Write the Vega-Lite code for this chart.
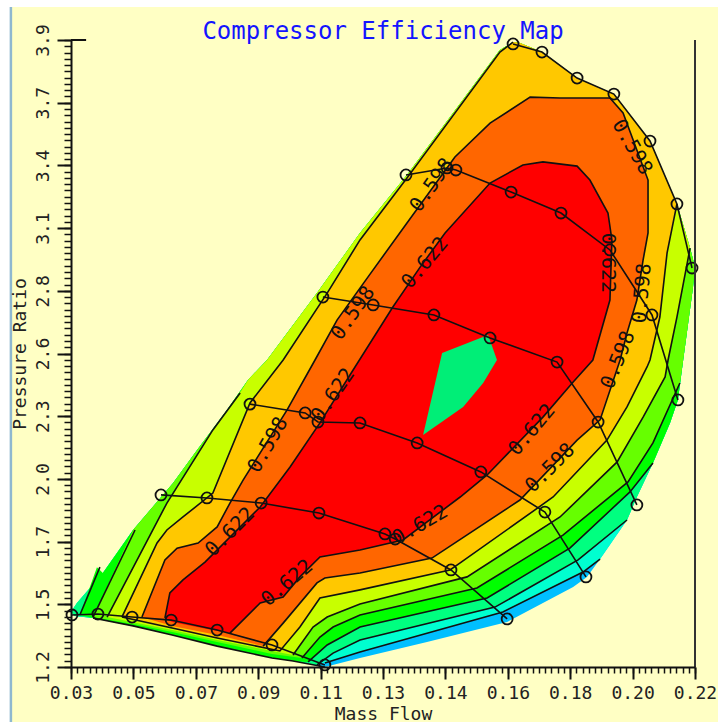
{"$schema":"https://vega.github.io/schema/vega-lite/v6.json","width":624,"height":627,"autosize":{"type":"none"},"padding":{"left":71,"top":40,"right":23,"bottom":55},"background":"#ffffff","title":{"text":"Compressor Efficiency Map","font":"DejaVu Sans Mono","fontSize":24,"fontWeight":"normal","color":"#1414ff","anchor":"middle","offset":-38},"config":{"view":{"stroke":null}},
"datasets":{
"frame":[{"flow":0.0117,"flow2":0.227,"ratio":0.963,"ratio2":4.042}],
"regions":[
{"band":"B","flow":0.03,"ratio":1.437},{"band":"B","flow":0.0318,"ratio":1.476},{"band":"B","flow":0.0397,"ratio":1.605},{"band":"B","flow":0.0489,"ratio":1.79},{"band":"B","flow":0.0611,"ratio":1.992},{"band":"B","flow":0.0684,"ratio":2.134},{"band":"B","flow":0.0775,"ratio":2.307},{"band":"B","flow":0.0839,"ratio":2.436},{"band":"B","flow":0.0897,"ratio":2.522},{"band":"B","flow":0.1049,"ratio":2.81},{"band":"B","flow":0.118,"ratio":3.069},{"band":"B","flow":0.1323,"ratio":3.319},{"band":"B","flow":0.1606,"ratio":3.857},{"band":"B","flow":0.1646,"ratio":3.891},{"band":"B","flow":0.1667,"ratio":3.887},{"band":"B","flow":0.1734,"ratio":3.848},{"band":"B","flow":0.1841,"ratio":3.736},{"band":"B","flow":0.1953,"ratio":3.667},{"band":"B","flow":0.2063,"ratio":3.465},{"band":"B","flow":0.2145,"ratio":3.194},{"band":"B","flow":0.2185,"ratio":3.004},{"band":"B","flow":0.22,"ratio":2.922},{"band":"B","flow":0.2194,"ratio":2.836},{"band":"B","flow":0.2164,"ratio":2.522},{"band":"B","flow":0.2148,"ratio":2.35},{"band":"B","flow":0.2124,"ratio":2.251},{"band":"B","flow":0.2072,"ratio":2.078},{"band":"B","flow":0.2023,"ratio":1.932},{"band":"B","flow":0.1993,"ratio":1.833},{"band":"B","flow":0.1911,"ratio":1.665},{"band":"B","flow":0.1871,"ratio":1.588},{"band":"B","flow":0.1829,"ratio":1.544},{"band":"B","flow":0.1628,"ratio":1.394},{"band":"B","flow":0.1384,"ratio":1.308},{"band":"B","flow":0.118,"ratio":1.239},{"band":"B","flow":0.1073,"ratio":1.2},{"band":"B","flow":0.0976,"ratio":1.226},{"band":"B","flow":0.0912,"ratio":1.239},{"band":"B","flow":0.0745,"ratio":1.29},{"band":"B","flow":0.0608,"ratio":1.338},{"band":"B","flow":0.0489,"ratio":1.377},{"band":"B","flow":0.0367,"ratio":1.411},{"band":"B","flow":0.0312,"ratio":1.42},
{"band":"Q","flow":0.03,"ratio":1.437},{"band":"Q","flow":0.0318,"ratio":1.476},{"band":"Q","flow":0.0397,"ratio":1.605},{"band":"Q","flow":0.0489,"ratio":1.79},{"band":"Q","flow":0.0611,"ratio":1.992},{"band":"Q","flow":0.0684,"ratio":2.134},{"band":"Q","flow":0.0775,"ratio":2.307},{"band":"Q","flow":0.0839,"ratio":2.436},{"band":"Q","flow":0.0897,"ratio":2.522},{"band":"Q","flow":0.1049,"ratio":2.81},{"band":"Q","flow":0.118,"ratio":3.069},{"band":"Q","flow":0.1323,"ratio":3.319},{"band":"Q","flow":0.1606,"ratio":3.857},{"band":"Q","flow":0.1646,"ratio":3.891},{"band":"Q","flow":0.1667,"ratio":3.887},{"band":"Q","flow":0.1734,"ratio":3.848},{"band":"Q","flow":0.1841,"ratio":3.736},{"band":"Q","flow":0.1953,"ratio":3.667},{"band":"Q","flow":0.2063,"ratio":3.465},{"band":"Q","flow":0.2145,"ratio":3.194},{"band":"Q","flow":0.2185,"ratio":3.004},{"band":"Q","flow":0.22,"ratio":2.922},{"band":"Q","flow":0.2194,"ratio":2.836},{"band":"Q","flow":0.2164,"ratio":2.522},{"band":"Q","flow":0.2148,"ratio":2.35},{"band":"Q","flow":0.2124,"ratio":2.251},{"band":"Q","flow":0.2072,"ratio":2.078},{"band":"Q","flow":0.2023,"ratio":1.932},{"band":"Q","flow":0.1993,"ratio":1.833},{"band":"Q","flow":0.1911,"ratio":1.665},{"band":"Q","flow":0.1859,"ratio":1.609},{"band":"Q","flow":0.1615,"ratio":1.437},{"band":"Q","flow":0.118,"ratio":1.265},{"band":"Q","flow":0.1073,"ratio":1.217},{"band":"Q","flow":0.0976,"ratio":1.226},{"band":"Q","flow":0.0912,"ratio":1.239},{"band":"Q","flow":0.0745,"ratio":1.29},{"band":"Q","flow":0.0608,"ratio":1.338},{"band":"Q","flow":0.0489,"ratio":1.377},{"band":"Q","flow":0.0367,"ratio":1.411},{"band":"Q","flow":0.0312,"ratio":1.42},
{"band":"S","flow":0.03,"ratio":1.437},{"band":"S","flow":0.0318,"ratio":1.476},{"band":"S","flow":0.0397,"ratio":1.605},{"band":"S","flow":0.0489,"ratio":1.79},{"band":"S","flow":0.0611,"ratio":1.992},{"band":"S","flow":0.0684,"ratio":2.134},{"band":"S","flow":0.0775,"ratio":2.307},{"band":"S","flow":0.0839,"ratio":2.436},{"band":"S","flow":0.0897,"ratio":2.522},{"band":"S","flow":0.1049,"ratio":2.81},{"band":"S","flow":0.118,"ratio":3.069},{"band":"S","flow":0.1323,"ratio":3.319},{"band":"S","flow":0.1606,"ratio":3.857},{"band":"S","flow":0.1646,"ratio":3.891},{"band":"S","flow":0.1667,"ratio":3.887},{"band":"S","flow":0.1734,"ratio":3.848},{"band":"S","flow":0.1841,"ratio":3.736},{"band":"S","flow":0.1953,"ratio":3.667},{"band":"S","flow":0.2063,"ratio":3.465},{"band":"S","flow":0.2145,"ratio":3.194},{"band":"S","flow":0.2185,"ratio":3.004},{"band":"S","flow":0.22,"ratio":2.922},{"band":"S","flow":0.2194,"ratio":2.836},{"band":"S","flow":0.2164,"ratio":2.522},{"band":"S","flow":0.2148,"ratio":2.35},{"band":"S","flow":0.2124,"ratio":2.251},{"band":"S","flow":0.2072,"ratio":2.078},{"band":"S","flow":0.2023,"ratio":1.932},{"band":"S","flow":0.1993,"ratio":1.833},{"band":"S","flow":0.1844,"ratio":1.661},{"band":"S","flow":0.1591,"ratio":1.458},{"band":"S","flow":0.118,"ratio":1.316},{"band":"S","flow":0.1098,"ratio":1.26},{"band":"S","flow":0.1049,"ratio":1.209},{"band":"S","flow":0.0976,"ratio":1.226},{"band":"S","flow":0.0912,"ratio":1.239},{"band":"S","flow":0.0745,"ratio":1.29},{"band":"S","flow":0.0608,"ratio":1.338},{"band":"S","flow":0.0489,"ratio":1.377},{"band":"S","flow":0.0367,"ratio":1.411},{"band":"S","flow":0.0312,"ratio":1.42},
{"band":"G","flow":0.0327,"ratio":1.424},{"band":"G","flow":0.0379,"ratio":1.63},{"band":"G","flow":0.0397,"ratio":1.605},{"band":"G","flow":0.0489,"ratio":1.79},{"band":"G","flow":0.0611,"ratio":1.992},{"band":"G","flow":0.0684,"ratio":2.134},{"band":"G","flow":0.0775,"ratio":2.307},{"band":"G","flow":0.0839,"ratio":2.436},{"band":"G","flow":0.0897,"ratio":2.522},{"band":"G","flow":0.1049,"ratio":2.81},{"band":"G","flow":0.118,"ratio":3.069},{"band":"G","flow":0.1323,"ratio":3.319},{"band":"G","flow":0.1606,"ratio":3.857},{"band":"G","flow":0.1646,"ratio":3.891},{"band":"G","flow":0.1667,"ratio":3.887},{"band":"G","flow":0.1734,"ratio":3.848},{"band":"G","flow":0.1841,"ratio":3.736},{"band":"G","flow":0.1953,"ratio":3.667},{"band":"G","flow":0.2063,"ratio":3.465},{"band":"G","flow":0.2145,"ratio":3.194},{"band":"G","flow":0.2185,"ratio":3.004},{"band":"G","flow":0.22,"ratio":2.922},{"band":"G","flow":0.2194,"ratio":2.836},{"band":"G","flow":0.2164,"ratio":2.522},{"band":"G","flow":0.2148,"ratio":2.35},{"band":"G","flow":0.2124,"ratio":2.251},{"band":"G","flow":0.2072,"ratio":2.078},{"band":"G","flow":0.2002,"ratio":1.954},{"band":"G","flow":0.1819,"ratio":1.712},{"band":"G","flow":0.1567,"ratio":1.497},{"band":"G","flow":0.118,"ratio":1.372},{"band":"G","flow":0.108,"ratio":1.295},{"band":"G","flow":0.1022,"ratio":1.222},{"band":"G","flow":0.0976,"ratio":1.226},{"band":"G","flow":0.0912,"ratio":1.239},{"band":"G","flow":0.0745,"ratio":1.29},{"band":"G","flow":0.0608,"ratio":1.338},{"band":"G","flow":0.0489,"ratio":1.377},{"band":"G","flow":0.0367,"ratio":1.411},
{"band":"L","flow":0.0367,"ratio":1.415},{"band":"L","flow":0.0489,"ratio":1.79},{"band":"L","flow":0.0611,"ratio":1.992},{"band":"L","flow":0.0684,"ratio":2.134},{"band":"L","flow":0.0775,"ratio":2.307},{"band":"L","flow":0.0839,"ratio":2.436},{"band":"L","flow":0.0897,"ratio":2.522},{"band":"L","flow":0.1049,"ratio":2.81},{"band":"L","flow":0.118,"ratio":3.069},{"band":"L","flow":0.1323,"ratio":3.319},{"band":"L","flow":0.1606,"ratio":3.857},{"band":"L","flow":0.1646,"ratio":3.891},{"band":"L","flow":0.1667,"ratio":3.887},{"band":"L","flow":0.1734,"ratio":3.848},{"band":"L","flow":0.1841,"ratio":3.736},{"band":"L","flow":0.1953,"ratio":3.667},{"band":"L","flow":0.2063,"ratio":3.465},{"band":"L","flow":0.2145,"ratio":3.194},{"band":"L","flow":0.2185,"ratio":3.004},{"band":"L","flow":0.22,"ratio":2.922},{"band":"L","flow":0.2194,"ratio":2.836},{"band":"L","flow":0.2164,"ratio":2.522},{"band":"L","flow":0.2154,"ratio":2.423},{"band":"L","flow":0.2072,"ratio":2.165},{"band":"L","flow":0.1996,"ratio":1.997},{"band":"L","flow":0.1798,"ratio":1.768},{"band":"L","flow":0.1536,"ratio":1.54},{"band":"L","flow":0.118,"ratio":1.424},{"band":"L","flow":0.1098,"ratio":1.372},{"band":"L","flow":0.1058,"ratio":1.329},{"band":"L","flow":0.1003,"ratio":1.239},{"band":"L","flow":0.0912,"ratio":1.256},{"band":"L","flow":0.0745,"ratio":1.308},{"band":"L","flow":0.0608,"ratio":1.351},{"band":"L","flow":0.0489,"ratio":1.385},
{"band":"Y","flow":0.041,"ratio":1.415},{"band":"Y","flow":0.0592,"ratio":1.906},{"band":"Y","flow":0.0732,"ratio":2.221},{"band":"Y","flow":0.0815,"ratio":2.38},{"band":"Y","flow":0.0839,"ratio":2.436},{"band":"Y","flow":0.0897,"ratio":2.522},{"band":"Y","flow":0.1049,"ratio":2.81},{"band":"Y","flow":0.118,"ratio":3.069},{"band":"Y","flow":0.1323,"ratio":3.319},{"band":"Y","flow":0.1606,"ratio":3.857},{"band":"Y","flow":0.1646,"ratio":3.891},{"band":"Y","flow":0.1667,"ratio":3.887},{"band":"Y","flow":0.1734,"ratio":3.848},{"band":"Y","flow":0.1841,"ratio":3.736},{"band":"Y","flow":0.1953,"ratio":3.667},{"band":"Y","flow":0.2063,"ratio":3.465},{"band":"Y","flow":0.2145,"ratio":3.194},{"band":"Y","flow":0.2185,"ratio":3.004},{"band":"Y","flow":0.2145,"ratio":2.707},{"band":"Y","flow":0.2118,"ratio":2.522},{"band":"Y","flow":0.2109,"ratio":2.449},{"band":"Y","flow":0.2042,"ratio":2.276},{"band":"Y","flow":0.1963,"ratio":2.083},{"band":"Y","flow":0.1789,"ratio":1.846},{"band":"Y","flow":0.1506,"ratio":1.588},{"band":"Y","flow":0.118,"ratio":1.471},{"band":"Y","flow":0.108,"ratio":1.415},{"band":"Y","flow":0.1037,"ratio":1.372},{"band":"Y","flow":0.0976,"ratio":1.252},{"band":"Y","flow":0.0912,"ratio":1.269},{"band":"Y","flow":0.0745,"ratio":1.316},{"band":"Y","flow":0.0608,"ratio":1.359},
{"band":"A","flow":0.0455,"ratio":1.415},{"band":"A","flow":0.0562,"ratio":1.734},{"band":"A","flow":0.0592,"ratio":1.79},{"band":"A","flow":0.0641,"ratio":1.846},{"band":"A","flow":0.0732,"ratio":1.949},{"band":"A","flow":0.0845,"ratio":2.337},{"band":"A","flow":0.0946,"ratio":2.522},{"band":"A","flow":0.108,"ratio":2.81},{"band":"A","flow":0.118,"ratio":3.039},{"band":"A","flow":0.1323,"ratio":3.306},{"band":"A","flow":0.1606,"ratio":3.848},{"band":"A","flow":0.1646,"ratio":3.891},{"band":"A","flow":0.1667,"ratio":3.887},{"band":"A","flow":0.1734,"ratio":3.848},{"band":"A","flow":0.1841,"ratio":3.736},{"band":"A","flow":0.1953,"ratio":3.667},{"band":"A","flow":0.2063,"ratio":3.465},{"band":"A","flow":0.2145,"ratio":3.194},{"band":"A","flow":0.2115,"ratio":2.983},{"band":"A","flow":0.2093,"ratio":2.707},{"band":"A","flow":0.2063,"ratio":2.522},{"band":"A","flow":0.2054,"ratio":2.492},{"band":"A","flow":0.1993,"ratio":2.32},{"band":"A","flow":0.1932,"ratio":2.177},{"band":"A","flow":0.1768,"ratio":1.932},{"band":"A","flow":0.1485,"ratio":1.648},{"band":"A","flow":0.1454,"ratio":1.618},{"band":"A","flow":0.118,"ratio":1.532},{"band":"A","flow":0.1058,"ratio":1.497},{"band":"A","flow":0.0997,"ratio":1.372},{"band":"A","flow":0.0936,"ratio":1.269},{"band":"A","flow":0.0745,"ratio":1.325},{"band":"A","flow":0.0608,"ratio":1.368},
{"band":"O","flow":0.0516,"ratio":1.415},{"band":"O","flow":0.0586,"ratio":1.661},{"band":"O","flow":0.0623,"ratio":1.712},{"band":"O","flow":0.0687,"ratio":1.734},{"band":"O","flow":0.0745,"ratio":1.803},{"band":"O","flow":0.0784,"ratio":1.906},{"band":"O","flow":0.0824,"ratio":2.005},{"band":"O","flow":0.0958,"ratio":2.307},{"band":"O","flow":0.1043,"ratio":2.522},{"band":"O","flow":0.111,"ratio":2.694},{"band":"O","flow":0.1204,"ratio":2.879},{"band":"O","flow":0.1323,"ratio":3.112},{"band":"O","flow":0.1469,"ratio":3.396},{"band":"O","flow":0.1576,"ratio":3.542},{"band":"O","flow":0.1698,"ratio":3.654},{"band":"O","flow":0.1789,"ratio":3.65},{"band":"O","flow":0.1941,"ratio":3.65},{"band":"O","flow":0.1981,"ratio":3.586},{"band":"O","flow":0.2057,"ratio":3.297},{"band":"O","flow":0.2057,"ratio":3.069},{"band":"O","flow":0.2042,"ratio":2.953},{"band":"O","flow":0.2023,"ratio":2.78},{"band":"O","flow":0.1993,"ratio":2.638},{"band":"O","flow":0.1972,"ratio":2.522},{"band":"O","flow":0.1911,"ratio":2.264},{"band":"O","flow":0.1841,"ratio":2.177},{"band":"O","flow":0.1667,"ratio":1.919},{"band":"O","flow":0.1399,"ratio":1.669},{"band":"O","flow":0.118,"ratio":1.605},{"band":"O","flow":0.1073,"ratio":1.583},{"band":"O","flow":0.1049,"ratio":1.562},{"band":"O","flow":0.0946,"ratio":1.389},{"band":"O","flow":0.0885,"ratio":1.29},{"band":"O","flow":0.0745,"ratio":1.338},{"band":"O","flow":0.0608,"ratio":1.377},
{"band":"R","flow":0.0586,"ratio":1.411},{"band":"R","flow":0.0601,"ratio":1.519},{"band":"R","flow":0.0641,"ratio":1.575},{"band":"R","flow":0.0708,"ratio":1.652},{"band":"R","flow":0.0876,"ratio":1.889},{"band":"R","flow":0.0967,"ratio":2.061},{"band":"R","flow":0.1058,"ratio":2.251},{"band":"R","flow":0.1159,"ratio":2.479},{"band":"R","flow":0.128,"ratio":2.75},{"band":"R","flow":0.1363,"ratio":2.922},{"band":"R","flow":0.1439,"ratio":3.069},{"band":"R","flow":0.1576,"ratio":3.284},{"band":"R","flow":0.1676,"ratio":3.362},{"band":"R","flow":0.1737,"ratio":3.375},{"band":"R","flow":0.1841,"ratio":3.357},{"band":"R","flow":0.188,"ratio":3.297},{"band":"R","flow":0.1935,"ratio":3.155},{"band":"R","flow":0.1947,"ratio":3.039},{"band":"R","flow":0.1941,"ratio":2.78},{"band":"R","flow":0.1889,"ratio":2.522},{"band":"R","flow":0.1829,"ratio":2.427},{"band":"R","flow":0.1737,"ratio":2.276},{"band":"R","flow":0.1567,"ratio":2.027},{"band":"R","flow":0.1485,"ratio":1.932},{"band":"R","flow":0.1311,"ratio":1.747},{"band":"R","flow":0.118,"ratio":1.704},{"band":"R","flow":0.1058,"ratio":1.674},{"band":"R","flow":0.0997,"ratio":1.588},{"band":"R","flow":0.0946,"ratio":1.501},{"band":"R","flow":0.0876,"ratio":1.476},{"band":"R","flow":0.0784,"ratio":1.346},{"band":"R","flow":0.0745,"ratio":1.355},{"band":"R","flow":0.0608,"ratio":1.394},
{"band":"C","flow":0.143,"ratio":2.552},{"band":"C","flow":0.157,"ratio":2.63},{"band":"C","flow":0.1597,"ratio":2.522},{"band":"C","flow":0.1555,"ratio":2.423},{"band":"C","flow":0.1494,"ratio":2.32},{"band":"C","flow":0.1372,"ratio":2.199}
],
"contours":[
{"c":"c1","flow":0.1911,"ratio":1.665},{"c":"c1","flow":0.1859,"ratio":1.609},{"c":"c1","flow":0.1615,"ratio":1.437},{"c":"c1","flow":0.118,"ratio":1.265},{"c":"c1","flow":0.1073,"ratio":1.217},
{"c":"c2","flow":0.1993,"ratio":1.833},{"c":"c2","flow":0.1844,"ratio":1.661},{"c":"c2","flow":0.1591,"ratio":1.458},{"c":"c2","flow":0.118,"ratio":1.316},{"c":"c2","flow":0.1098,"ratio":1.26},{"c":"c2","flow":0.1049,"ratio":1.209},
{"c":"c3","flow":0.2072,"ratio":2.078},{"c":"c3","flow":0.2002,"ratio":1.954},{"c":"c3","flow":0.1819,"ratio":1.712},{"c":"c3","flow":0.1567,"ratio":1.497},{"c":"c3","flow":0.118,"ratio":1.372},{"c":"c3","flow":0.108,"ratio":1.295},{"c":"c3","flow":0.1022,"ratio":1.222},
{"c":"c3b","flow":0.0327,"ratio":1.424},{"c":"c3b","flow":0.0388,"ratio":1.63},
{"c":"c4","flow":0.2154,"ratio":2.423},{"c":"c4","flow":0.2072,"ratio":2.165},{"c":"c4","flow":0.1996,"ratio":1.997},{"c":"c4","flow":0.1798,"ratio":1.768},{"c":"c4","flow":0.1536,"ratio":1.54},{"c":"c4","flow":0.118,"ratio":1.424},{"c":"c4","flow":0.1098,"ratio":1.372},{"c":"c4","flow":0.1058,"ratio":1.329},{"c":"c4","flow":0.1003,"ratio":1.239},
{"c":"c4b","flow":0.0367,"ratio":1.415},{"c":"c4b","flow":0.0495,"ratio":1.79},
{"c":"c5","flow":0.2185,"ratio":3.004},{"c":"c5","flow":0.2145,"ratio":2.707},{"c":"c5","flow":0.2118,"ratio":2.522},{"c":"c5","flow":0.2109,"ratio":2.449},{"c":"c5","flow":0.2042,"ratio":2.276},{"c":"c5","flow":0.1963,"ratio":2.083},{"c":"c5","flow":0.1789,"ratio":1.846},{"c":"c5","flow":0.1506,"ratio":1.588},{"c":"c5","flow":0.118,"ratio":1.471},{"c":"c5","flow":0.108,"ratio":1.415},{"c":"c5","flow":0.1037,"ratio":1.372},{"c":"c5","flow":0.0976,"ratio":1.252},
{"c":"c5b","flow":0.041,"ratio":1.415},{"c":"c5b","flow":0.0592,"ratio":1.906},{"c":"c5b","flow":0.0732,"ratio":2.221},{"c":"c5b","flow":0.0815,"ratio":2.38},
{"c":"c6","flow":0.0455,"ratio":1.415},{"c":"c6","flow":0.0562,"ratio":1.734},{"c":"c6","flow":0.0592,"ratio":1.79},{"c":"c6","flow":0.0641,"ratio":1.846},{"c":"c6","flow":0.0732,"ratio":1.949},{"c":"c6","flow":0.0845,"ratio":2.337},{"c":"c6","flow":0.0946,"ratio":2.522},{"c":"c6","flow":0.108,"ratio":2.81},{"c":"c6","flow":0.118,"ratio":3.039},{"c":"c6","flow":0.1323,"ratio":3.306},{"c":"c6","flow":0.1606,"ratio":3.848},{"c":"c6","flow":0.1646,"ratio":3.891},
{"c":"c6b","flow":0.2145,"ratio":3.194},{"c":"c6b","flow":0.2115,"ratio":2.983},{"c":"c6b","flow":0.2093,"ratio":2.707},{"c":"c6b","flow":0.2063,"ratio":2.522},{"c":"c6b","flow":0.2054,"ratio":2.492},{"c":"c6b","flow":0.1993,"ratio":2.32},{"c":"c6b","flow":0.1932,"ratio":2.177},{"c":"c6b","flow":0.1768,"ratio":1.932},{"c":"c6b","flow":0.1485,"ratio":1.648},{"c":"c6b","flow":0.1454,"ratio":1.618},{"c":"c6b","flow":0.118,"ratio":1.532},{"c":"c6b","flow":0.1058,"ratio":1.497},{"c":"c6b","flow":0.0997,"ratio":1.372},{"c":"c6b","flow":0.0936,"ratio":1.269},{"c":"c6b","flow":0.0745,"ratio":1.325},{"c":"c6b","flow":0.0608,"ratio":1.368},{"c":"c6b","flow":0.0455,"ratio":1.415},
{"c":"c7","flow":0.0516,"ratio":1.415},{"c":"c7","flow":0.0586,"ratio":1.661},{"c":"c7","flow":0.0623,"ratio":1.712},{"c":"c7","flow":0.0687,"ratio":1.734},{"c":"c7","flow":0.0745,"ratio":1.803},{"c":"c7","flow":0.0784,"ratio":1.906},{"c":"c7","flow":0.0824,"ratio":2.005},{"c":"c7","flow":0.0958,"ratio":2.307},{"c":"c7","flow":0.1043,"ratio":2.522},{"c":"c7","flow":0.111,"ratio":2.694},{"c":"c7","flow":0.1204,"ratio":2.879},{"c":"c7","flow":0.1323,"ratio":3.112},{"c":"c7","flow":0.1469,"ratio":3.396},{"c":"c7","flow":0.1576,"ratio":3.542},{"c":"c7","flow":0.1698,"ratio":3.654},{"c":"c7","flow":0.1789,"ratio":3.65},{"c":"c7","flow":0.1941,"ratio":3.65},{"c":"c7","flow":0.1981,"ratio":3.586},{"c":"c7","flow":0.2057,"ratio":3.297},{"c":"c7","flow":0.2057,"ratio":3.069},{"c":"c7","flow":0.2042,"ratio":2.953},{"c":"c7","flow":0.2023,"ratio":2.78},{"c":"c7","flow":0.1993,"ratio":2.638},{"c":"c7","flow":0.1972,"ratio":2.522},{"c":"c7","flow":0.1911,"ratio":2.264},{"c":"c7","flow":0.1841,"ratio":2.177},{"c":"c7","flow":0.1667,"ratio":1.919},{"c":"c7","flow":0.1399,"ratio":1.669},{"c":"c7","flow":0.118,"ratio":1.605},{"c":"c7","flow":0.1073,"ratio":1.583},{"c":"c7","flow":0.1049,"ratio":1.562},{"c":"c7","flow":0.0946,"ratio":1.389},{"c":"c7","flow":0.0885,"ratio":1.29},
{"c":"c8","flow":0.0586,"ratio":1.411},{"c":"c8","flow":0.0601,"ratio":1.519},{"c":"c8","flow":0.0641,"ratio":1.575},{"c":"c8","flow":0.0708,"ratio":1.652},{"c":"c8","flow":0.0876,"ratio":1.889},{"c":"c8","flow":0.0967,"ratio":2.061},{"c":"c8","flow":0.1058,"ratio":2.251},{"c":"c8","flow":0.1159,"ratio":2.479},{"c":"c8","flow":0.128,"ratio":2.75},{"c":"c8","flow":0.1363,"ratio":2.922},{"c":"c8","flow":0.1439,"ratio":3.069},{"c":"c8","flow":0.1576,"ratio":3.284},{"c":"c8","flow":0.1676,"ratio":3.362},{"c":"c8","flow":0.1737,"ratio":3.375},{"c":"c8","flow":0.1841,"ratio":3.357},{"c":"c8","flow":0.188,"ratio":3.297},{"c":"c8","flow":0.1935,"ratio":3.155},{"c":"c8","flow":0.1947,"ratio":3.039},{"c":"c8","flow":0.1941,"ratio":2.78},{"c":"c8","flow":0.1889,"ratio":2.522},{"c":"c8","flow":0.1829,"ratio":2.427},{"c":"c8","flow":0.1737,"ratio":2.276},{"c":"c8","flow":0.1567,"ratio":2.027},{"c":"c8","flow":0.1485,"ratio":1.932},{"c":"c8","flow":0.1311,"ratio":1.747},{"c":"c8","flow":0.118,"ratio":1.704},{"c":"c8","flow":0.1058,"ratio":1.674},{"c":"c8","flow":0.0997,"ratio":1.588},{"c":"c8","flow":0.0946,"ratio":1.501},{"c":"c8","flow":0.0876,"ratio":1.476},{"c":"c8","flow":0.0784,"ratio":1.346},
{"c":"c9","flow":0.1073,"ratio":1.2},{"c":"c9","flow":0.0976,"ratio":1.226},{"c":"c9","flow":0.0912,"ratio":1.239},{"c":"c9","flow":0.0745,"ratio":1.29},{"c":"c9","flow":0.0608,"ratio":1.338},{"c":"c9","flow":0.0489,"ratio":1.377},{"c":"c9","flow":0.0367,"ratio":1.411}
],
"speeds":[
{"s":"s1","flow":0.0303,"ratio":1.424},{"s":"s1","flow":0.0382,"ratio":1.428},{"s":"s1","flow":0.0486,"ratio":1.415},{"s":"s1","flow":0.0605,"ratio":1.402},{"s":"s1","flow":0.0745,"ratio":1.359},{"s":"s1","flow":0.0912,"ratio":1.295},{"s":"s1","flow":0.1073,"ratio":1.209},
{"s":"s2","flow":0.0574,"ratio":1.941},{"s":"s2","flow":0.0714,"ratio":1.928},{"s":"s2","flow":0.0879,"ratio":1.906},{"s":"s2","flow":0.1055,"ratio":1.863},{"s":"s2","flow":0.1256,"ratio":1.773},{"s":"s2","flow":0.1287,"ratio":1.751},{"s":"s2","flow":0.1457,"ratio":1.618},{"s":"s2","flow":0.1628,"ratio":1.407},
{"s":"s3","flow":0.0845,"ratio":2.332},{"s":"s3","flow":0.1013,"ratio":2.294},{"s":"s3","flow":0.1052,"ratio":2.255},{"s":"s3","flow":0.118,"ratio":2.251},{"s":"s3","flow":0.1354,"ratio":2.165},{"s":"s3","flow":0.1548,"ratio":2.04},{"s":"s3","flow":0.1743,"ratio":1.867},{"s":"s3","flow":0.1868,"ratio":1.588},
{"s":"s4","flow":0.1067,"ratio":2.793},{"s":"s4","flow":0.122,"ratio":2.759},{"s":"s4","flow":0.1405,"ratio":2.716},{"s":"s4","flow":0.1576,"ratio":2.617},{"s":"s4","flow":0.178,"ratio":2.513},{"s":"s4","flow":0.1905,"ratio":2.255},{"s":"s4","flow":0.2023,"ratio":1.898},
{"s":"s5","flow":0.132,"ratio":3.319},{"s":"s5","flow":0.1445,"ratio":3.349},{"s":"s5","flow":0.1472,"ratio":3.34},{"s":"s5","flow":0.164,"ratio":3.245},{"s":"s5","flow":0.1792,"ratio":3.155},{"s":"s5","flow":0.1941,"ratio":2.996},{"s":"s5","flow":0.2069,"ratio":2.716},{"s":"s5","flow":0.2148,"ratio":2.35},
{"s":"s6","flow":0.1646,"ratio":3.883},{"s":"s6","flow":0.1734,"ratio":3.848},{"s":"s6","flow":0.1841,"ratio":3.736},{"s":"s6","flow":0.1953,"ratio":3.667},{"s":"s6","flow":0.2063,"ratio":3.465},{"s":"s6","flow":0.2145,"ratio":3.194},{"s":"s6","flow":0.2191,"ratio":2.918}
]},
"layer":[
{"data":{"name":"frame"},"mark":{"type":"rect","fill":"#ffffc4"},"encoding":{"x":{"field":"flow","type":"quantitative","scale":{"domain":[0.03,0.22]},"axis":null},"x2":{"field":"flow2"},"y":{"field":"ratio","type":"quantitative","scale":{"domain":[1.2,3.9]},"axis":null},"y2":{"field":"ratio2"}}},
{"data":{"name":"frame"},"mark":{"type":"rule","stroke":"#8fb8cf","strokeWidth":2.5},"encoding":{"x":{"field":"flow","type":"quantitative","scale":{"domain":[0.03,0.22]},"axis":null},"y":{"field":"ratio","type":"quantitative","scale":{"domain":[1.2,3.9]},"axis":null},"y2":{"field":"ratio2"}}},
{"data":{"name":"regions"},"mark":{"type":"line","strokeWidth":0,"clip":false},"encoding":{"order":{"value":null},"detail":{"field":"band"},"fill":{"field":"band","type":"nominal","legend":null,"scale":{"domain":["B","Q","S","G","L","Y","A","O","R","C"],"range":["#00BFFF","#00FFD0","#00FF80","#00FF00","#66FF00","#C8FF00","#FFC800","#FF6600","#FF0000","#00EE77"]}},
"x":{"field":"flow","type":"quantitative","scale":{"domain":[0.03,0.22]},"axis":{"orient":"bottom","zindex":1,"title":"Mass Flow","values":[0.03,0.049,0.068,0.087,0.106,0.125,0.144,0.163,0.182,0.201,0.22],"format":".2f","grid":false,"domainColor":"#111111","domainWidth":2,"tickColor":"#111111","tickWidth":2,"tickSize":12,"labelFont":"DejaVu Sans Mono","labelFontSize":18,"labelColor":"#222222","labelPadding":5,"labelFlush":false,"labelOverlap":false,"titleFont":"DejaVu Sans Mono","titleFontSize":18,"titleFontWeight":"normal","titleColor":"#222222","titleY":47,"titleBaseline":"middle"}},
"y":{"field":"ratio","type":"quantitative","scale":{"domain":[1.2,3.9]},"axis":{"orient":"left","zindex":1,"title":"Pressure Ratio","values":[1.2,1.47,1.74,2.01,2.28,2.55,2.82,3.09,3.36,3.63,3.9],"labelExpr":"datum.value==3.63?'3.7':(datum.value==2.55?'2.6':format(datum.value,'.1f'))","grid":false,"domainColor":"#111111","domainWidth":2,"tickColor":"#111111","tickWidth":2,"tickSize":14,"labelAngle":270,"labelAlign":"center","labelBaseline":"middle","labelFont":"DejaVu Sans Mono","labelFontSize":18,"labelColor":"#222222","labelPadding":14,"labelFlush":false,"labelOverlap":false,"titleFont":"DejaVu Sans Mono","titleFontSize":18,"titleFontWeight":"normal","titleColor":"#222222","titleX":-51,"titleBaseline":"middle","titleAngle":270}}}},
{"data":{"name":"contours"},"mark":{"type":"line","stroke":"#111111","strokeWidth":1.6},"encoding":{"order":{"value":null},"detail":{"field":"c"},"x":{"field":"flow","type":"quantitative","scale":{"domain":[0.03,0.22]},"axis":null},"y":{"field":"ratio","type":"quantitative","scale":{"domain":[1.2,3.9]},"axis":null}}},
{"data":{"name":"speeds"},"mark":{"type":"line","stroke":"#111111","strokeWidth":1.6},"encoding":{"order":{"value":null},"detail":{"field":"s"},"x":{"field":"flow","type":"quantitative","scale":{"domain":[0.03,0.22]},"axis":null},"y":{"field":"ratio","type":"quantitative","scale":{"domain":[1.2,3.9]},"axis":null}}},
{"data":{"name":"speeds"},"mark":{"type":"point","shape":"circle","filled":false,"stroke":"#111111","strokeWidth":1.8,"size":120,"opacity":1},"encoding":{
"x":{"field":"flow","type":"quantitative","scale":{"domain":[0.03,0.22]},"axis":{"orient":"bottom","zindex":1,"title":null,"labels":false,"domain":false,"grid":false,"tickColor":"#111111","tickWidth":1.5,"tickSize":6,"values":[0.03,0.0319,0.0338,0.0357,0.0376,0.0395,0.0414,0.0433,0.0452,0.0471,0.049,0.0509,0.0528,0.0547,0.0566,0.0585,0.0604,0.0623,0.0642,0.0661,0.068,0.0699,0.0718,0.0737,0.0756,0.0775,0.0794,0.0813,0.0832,0.0851,0.087,0.0889,0.0908,0.0927,0.0946,0.0965,0.0984,0.1003,0.1022,0.1041,0.106,0.1079,0.1098,0.1117,0.1136,0.1155,0.1174,0.1193,0.1212,0.1231,0.125,0.1269,0.1288,0.1307,0.1326,0.1345,0.1364,0.1383,0.1402,0.1421,0.144,0.1459,0.1478,0.1497,0.1516,0.1535,0.1554,0.1573,0.1592,0.1611,0.163,0.1649,0.1668,0.1687,0.1706,0.1725,0.1744,0.1763,0.1782,0.1801,0.182,0.1839,0.1858,0.1877,0.1896,0.1915,0.1934,0.1953,0.1972,0.1991,0.201,0.2029,0.2048,0.2067,0.2086,0.2105,0.2124,0.2143,0.2162,0.2181,0.22]}},
"y":{"field":"ratio","type":"quantitative","scale":{"domain":[1.2,3.9]},"axis":{"orient":"left","zindex":1,"title":null,"labels":false,"domain":false,"grid":false,"tickColor":"#111111","tickWidth":1.5,"tickSize":7,"values":[1.2,1.227,1.254,1.281,1.308,1.335,1.362,1.389,1.416,1.443,1.47,1.497,1.524,1.551,1.578,1.605,1.632,1.659,1.686,1.713,1.74,1.767,1.794,1.821,1.848,1.875,1.902,1.929,1.956,1.983,2.01,2.037,2.064,2.091,2.118,2.145,2.172,2.199,2.226,2.253,2.28,2.307,2.334,2.361,2.388,2.415,2.442,2.469,2.496,2.523,2.55,2.577,2.604,2.631,2.658,2.685,2.712,2.739,2.766,2.793,2.82,2.847,2.874,2.901,2.928,2.955,2.982,3.009,3.036,3.063,3.09,3.117,3.144,3.171,3.198,3.225,3.252,3.279,3.306,3.333,3.36,3.387,3.414,3.441,3.468,3.495,3.522,3.549,3.576,3.603,3.63,3.657,3.684,3.711,3.738,3.765,3.792,3.819,3.846,3.873,3.9]}}}},
{"data":{"values":[{"flow":0.2008,"ratio":3.439,"label":"0.598"}]},"mark":{"type":"text","angle":60,"font":"DejaVu Sans Mono","fontSize":20,"color":"#111111"},"encoding":{"text":{"field":"label"},"x":{"field":"flow","type":"quantitative","scale":{"domain":[0.03,0.22]},"axis":null},"y":{"field":"ratio","type":"quantitative","scale":{"domain":[1.2,3.9]},"axis":null}}},
{"data":{"values":[{"flow":0.1399,"ratio":3.275,"label":"0.598"},{"flow":0.1098,"ratio":2.371,"label":"0.622"},{"flow":0.1159,"ratio":2.724,"label":"0.598"}]},"mark":{"type":"text","angle":305,"font":"DejaVu Sans Mono","fontSize":20,"color":"#111111"},"encoding":{"text":{"field":"label"},"x":{"field":"flow","type":"quantitative","scale":{"domain":[0.03,0.22]},"axis":null},"y":{"field":"ratio","type":"quantitative","scale":{"domain":[1.2,3.9]},"axis":null}}},
{"data":{"values":[{"flow":0.1378,"ratio":2.94,"label":"0.622"},{"flow":0.1704,"ratio":2.221,"label":"0.622"}]},"mark":{"type":"text","angle":310,"font":"DejaVu Sans Mono","fontSize":20,"color":"#111111"},"encoding":{"text":{"field":"label"},"x":{"field":"flow","type":"quantitative","scale":{"domain":[0.03,0.22]},"axis":null},"y":{"field":"ratio","type":"quantitative","scale":{"domain":[1.2,3.9]},"axis":null}}},
{"data":{"values":[{"flow":0.1759,"ratio":2.057,"label":"0.598"},{"flow":0.0784,"ratio":1.781,"label":"0.622"}]},"mark":{"type":"text","angle":315,"font":"DejaVu Sans Mono","fontSize":20,"color":"#111111"},"encoding":{"text":{"field":"label"},"x":{"field":"flow","type":"quantitative","scale":{"domain":[0.03,0.22]},"axis":null},"y":{"field":"ratio","type":"quantitative","scale":{"domain":[1.2,3.9]},"axis":null}}},
{"data":{"values":[{"flow":0.1935,"ratio":2.94,"label":"0.622"}]},"mark":{"type":"text","angle":90,"font":"DejaVu Sans Mono","fontSize":20,"color":"#111111"},"encoding":{"text":{"field":"label"},"x":{"field":"flow","type":"quantitative","scale":{"domain":[0.03,0.22]},"axis":null},"y":{"field":"ratio","type":"quantitative","scale":{"domain":[1.2,3.9]},"axis":null}}},
{"data":{"values":[{"flow":0.2039,"ratio":2.81,"label":"0.598"}]},"mark":{"type":"text","angle":275,"font":"DejaVu Sans Mono","fontSize":20,"color":"#111111"},"encoding":{"text":{"field":"label"},"x":{"field":"flow","type":"quantitative","scale":{"domain":[0.03,0.22]},"axis":null},"y":{"field":"ratio","type":"quantitative","scale":{"domain":[1.2,3.9]},"axis":null}}},
{"data":{"values":[{"flow":0.1966,"ratio":2.522,"label":"0.598"}]},"mark":{"type":"text","angle":292,"font":"DejaVu Sans Mono","fontSize":20,"color":"#111111"},"encoding":{"text":{"field":"label"},"x":{"field":"flow","type":"quantitative","scale":{"domain":[0.03,0.22]},"axis":null},"y":{"field":"ratio","type":"quantitative","scale":{"domain":[1.2,3.9]},"axis":null}}},
{"data":{"values":[{"flow":0.1363,"ratio":1.811,"label":"0.622"}]},"mark":{"type":"text","angle":330,"font":"DejaVu Sans Mono","fontSize":20,"color":"#111111"},"encoding":{"text":{"field":"label"},"x":{"field":"flow","type":"quantitative","scale":{"domain":[0.03,0.22]},"axis":null},"y":{"field":"ratio","type":"quantitative","scale":{"domain":[1.2,3.9]},"axis":null}}},
{"data":{"values":[{"flow":0.0958,"ratio":1.562,"label":"0.622"}]},"mark":{"type":"text","angle":320,"font":"DejaVu Sans Mono","fontSize":20,"color":"#111111"},"encoding":{"text":{"field":"label"},"x":{"field":"flow","type":"quantitative","scale":{"domain":[0.03,0.22]},"axis":null},"y":{"field":"ratio","type":"quantitative","scale":{"domain":[1.2,3.9]},"axis":null}}},
{"data":{"values":[{"flow":0.09,"ratio":2.156,"label":"0.598"}]},"mark":{"type":"text","angle":300,"font":"DejaVu Sans Mono","fontSize":20,"color":"#111111"},"encoding":{"text":{"field":"label"},"x":{"field":"flow","type":"quantitative","scale":{"domain":[0.03,0.22]},"axis":null},"y":{"field":"ratio","type":"quantitative","scale":{"domain":[1.2,3.9]},"axis":null}}},
{"data":{"values":[{"flow":0.22}]},"mark":{"type":"rule","stroke":"#333333","strokeWidth":2},"encoding":{"x":{"field":"flow","type":"quantitative","scale":{"domain":[0.03,0.22]},"axis":null}}},
{"data":{"values":[{"flow":0.03,"flow2":0.0346,"ratio":3.9}]},"mark":{"type":"rule","stroke":"#111111","strokeWidth":2},"encoding":{"x":{"field":"flow","type":"quantitative","scale":{"domain":[0.03,0.22]},"axis":null},"x2":{"field":"flow2"},"y":{"field":"ratio","type":"quantitative","scale":{"domain":[1.2,3.9]},"axis":null}}}
],
"resolve":{"axis":{"x":"independent","y":"independent"}}}
